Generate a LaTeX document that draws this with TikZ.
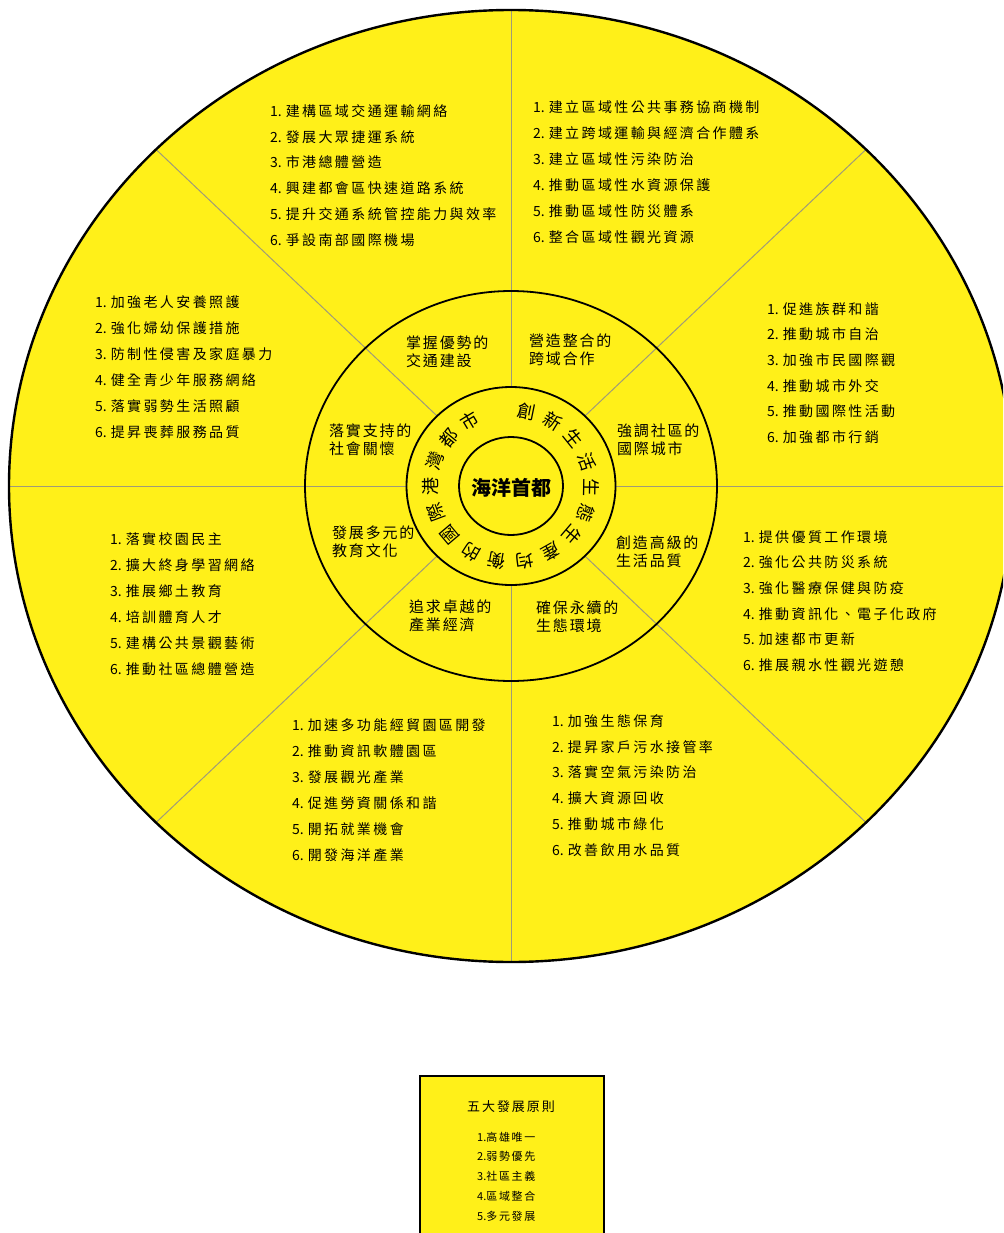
\documentclass[tikz,border=0pt]{standalone}
\usepackage{fontspec}
\setmainfont{Noto Sans CJK TC}
\newfontfamily\listfont[LetterSpace=17]{Noto Sans CJK TC}
\newfontfamily\numfont{Noto Sans CJK TC}
\newfontfamily\midfont[LetterSpace=12]{Noto Sans CJK TC}
\newfontfamily\legfont[LetterSpace=15]{Noto Sans CJK TC}
\definecolor{yfill}{RGB}{255,240,25}
\definecolor{spokec}{RGB}{160,155,120}
\newcommand\numit[1]{{\numfont #1.}\hspace{4pt}}
\begin{document}
\begin{tikzpicture}[x=1pt,y=-1pt,
  listtxt/.style={anchor=west,inner sep=0pt,font={\listfont\fontsize{14}{16}\selectfont}},
  midtxt/.style={anchor=west,inner sep=0pt,align=left,font={\midfont\fontsize{15}{18}\selectfont}},
  ringtxt/.style={inner sep=0pt,font={\fontsize{18}{20}\selectfont}},
  legtitle/.style={inner sep=0pt,font={\legfont\fontsize{13}{15}\selectfont}},
  legtxt/.style={anchor=west,inner sep=0pt,font={\legfont\fontsize{11}{13}\selectfont}},
  spokeline/.style={draw=spokec,line width=1pt},
  ringline/.style={draw=black,line width=1.8pt}]
\path[use as bounding box] (0,0) rectangle (1003,1233);
\clip (0,0) rectangle (1003,1233);
% outer ellipse
\fill[yfill] (511,486) ellipse [x radius=502, y radius=476];
% spokes
\foreach \a in {0,45,...,315}
  \draw[spokeline] ({511+104.5*cos(\a)},{486-99*sin(\a)}) -- ({511+501*cos(\a)},{486-475*sin(\a)});
\draw[black,line width=2.4pt] (511,486) ellipse [x radius=502, y radius=476];
\draw[ringline] (511,486) ellipse [x radius=206, y radius=195];
\draw[ringline] (511,486) ellipse [x radius=104.5, y radius=99];
\draw[ringline] (511,486) ellipse [x radius=52, y radius=49];
% centre
\node[inner sep=0pt,font={\bfseries\fontsize{20}{22}\selectfont}] (centre) at (511,488) {海洋首都};
% ring text
\foreach \ch [count=\i from 0] in {創,新,生,活,生,態,生,產,均,衡,的,國,際,港,灣,都,市}{
  \pgfmathsetmacro\ang{78.5-19.85*\i}
  \node[ringtxt,rotate=\ang-90] (ring\i) at ({511+1.055*76*cos(\ang)},{486-76*sin(\ang)}) {\ch};
}
% middle ring labels
\node[midtxt] (m1) at (406,352) {掌握優勢的\\交通建設};
\node[midtxt] (m2) at (529,350) {營造整合的\\跨域合作};
\node[midtxt] (m3) at (617,440) {強調社區的\\國際城市};
\node[midtxt] (m4) at (616,552) {創造高級的\\生活品質};
\node[midtxt] (m5) at (536,617) {確保永續的\\生態環境};
\node[midtxt] (m6) at (409,616) {追求卓越的\\產業經濟};
\node[midtxt] (m7) at (332,542) {發展多元的\\教育文化};
\node[midtxt] (m8) at (329,440) {落實支持的\\社會關懷};
% outer lists
\foreach \t [count=\k from 1] in {建構區域交通運輸網絡,發展大眾捷運系統,市港總體營造,興建都會區快速道路系統,提升交通系統管控能力與效率,爭設南部國際機場}
  \node[listtxt] (tl\k) at (270,{111+25.8*(\k-1)}) {\numit{\k}\t};
\foreach \t [count=\k from 1] in {建立區域性公共事務協商機制,建立跨域運輸與經濟合作體系,建立區域性污染防治,推動區域性水資源保護,推動區域性防災體系,整合區域性觀光資源}
  \node[listtxt] (tr\k) at (533,{107+26*(\k-1)}) {\numit{\k}\t};
\foreach \t [count=\k from 1] in {加強老人安養照護,強化婦幼保護措施,防制性侵害及家庭暴力,健全青少年服務網絡,落實弱勢生活照顧,提昇喪葬服務品質}
  \node[listtxt] (lu\k) at (95,{302+26*(\k-1)}) {\numit{\k}\t};
\foreach \t [count=\k from 1] in {促進族群和諧,推動城市自治,加強市民國際觀,推動城市外交,推動國際性活動,加強都市行銷}
  \node[listtxt] (ru\k) at (767,{309+25.6*(\k-1)}) {\numit{\k}\t};
\foreach \t [count=\k from 1] in {落實校園民主,擴大終身學習網絡,推展鄉土教育,培訓體育人才,建構公共景觀藝術,推動社區總體營造}
  \node[listtxt] (ll\k) at (110,{539+26*(\k-1)}) {\numit{\k}\t};
\foreach \t [count=\k from 1] in {提供優質工作環境,強化公共防災系統,強化醫療保健與防疫,推動資訊化、電子化政府,加速都市更新,推展親水性觀光遊憩}
  \node[listtxt] (rl\k) at (743,{537+25.6*(\k-1)}) {\numit{\k}\t};
\foreach \t [count=\k from 1] in {加速多功能經貿園區開發,推動資訊軟體園區,發展觀光產業,促進勞資關係和諧,開拓就業機會,開發海洋產業}
  \node[listtxt] (bl\k) at (292,{725+26*(\k-1)}) {\numit{\k}\t};
\foreach \t [count=\k from 1] in {加強生態保育,提昇家戶污水接管率,落實空氣污染防治,擴大資源回收,推動城市綠化,改善飲用水品質}
  \node[listtxt] (br\k) at (552,{721+25.8*(\k-1)}) {\numit{\k}\t};
% legend
\node[draw=black,line width=2pt,fill=yfill,anchor=north west,inner sep=0pt,minimum width=184pt,minimum height=175pt] (legend) at (419,1075) {};
\node[legtitle] (legt) at (511,1107) {五大發展原則};
\foreach \t [count=\k from 1] in {高雄唯一,弱勢優先,社區主義,區域整合,多元發展}
  \node[legtxt] (leg\k) at (477,{1137+19.8*(\k-1)}) {{\numfont\k.}\t};
\end{tikzpicture}
\end{document}
